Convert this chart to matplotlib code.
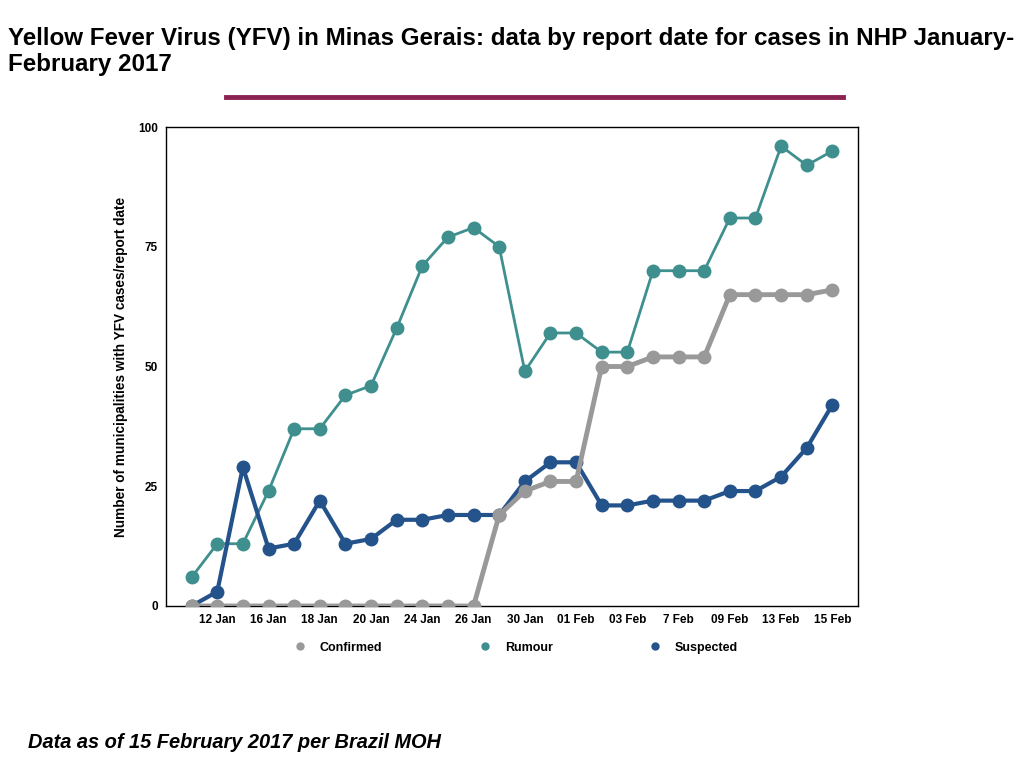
import numpy as np
import matplotlib.pyplot as plt
from matplotlib.lines import Line2D

# report dates (every other point is labelled)
tick_labels = ["12 Jan", "16 Jan", "18 Jan", "20 Jan", "24 Jan", "26 Jan", "30 Jan",
               "01 Feb", "03 Feb", "7 Feb", "09 Feb", "13 Feb", "15 Feb"]

confirmed = [0, 0, 0, 0, 0, 0, 0, 0, 0, 0, 0, 0, 19, 24, 26, 26,
             50, 50, 52, 52, 52, 65, 65, 65, 65, 66]
rumour = [6, 13, 13, 24, 37, 37, 44, 46, 58, 71, 77, 79, 75, 49, 57, 57,
          53, 53, 70, 70, 70, 81, 81, 96, 92, 95]
suspected = [0, 3, 29, 12, 13, 22, 13, 14, 18, 18, 19, 19, 19, 26, 30, 30,
             21, 21, 22, 22, 22, 24, 24, 27, 33, 42]

c_conf = "#999999"
c_rum = "#3f8f8f"
c_sus = "#24528a"

x = np.arange(1, len(confirmed) + 1)

plt.rcParams["font.family"] = ["Liberation Sans", "DejaVu Sans"]
fig = plt.figure(figsize=(10.24, 7.68), dpi=100)
ax = fig.add_axes([166 / 1024, 1 - 606 / 768, 692 / 1024, 479 / 768])

ax.plot(x, rumour, "-o", color=c_rum, lw=2, ms=9, zorder=2)
ax.plot(x, suspected, "-o", color=c_sus, lw=3, ms=9, zorder=3)
ax.plot(x, confirmed, "-o", color=c_conf, lw=3.5, ms=9, zorder=4)

ax.set_xlim(0, 27)
ax.set_ylim(0, 100)
ax.set_yticks([0, 25, 50, 75, 100])
ax.set_xticks(x[1::2])
ax.set_xticklabels(tick_labels)
ax.tick_params(length=0, labelsize=8.5, pad=6)
for lab in ax.get_xticklabels() + ax.get_yticklabels():
    lab.set_fontweight("bold")
ax.set_ylabel("Number of municipalities with YFV cases/report date",
              fontsize=9.8, fontweight="bold", labelpad=7)
for sp in ax.spines.values():
    sp.set_linewidth(1)
    sp.set_color("black")

handles = [Line2D([], [], ls="none", marker="o", ms=5, color=c) for c in (c_conf, c_rum, c_sus)]
ax.legend(handles, ["Confirmed", "Rumour", "Suspected"], ncol=3, frameon=False,
          loc="center", bbox_to_anchor=(0.501, -0.087), prop={"weight": "bold", "size": 9},
          columnspacing=7.2, handletextpad=0.6)

fig.text(8 / 1024, 1 - 38 / 768,
         "Yellow Fever Virus (YFV) in Minas Gerais: data by report date for cases in NHP January-",
         fontsize=17.4, fontweight="bold", va="center", ha="left")
fig.text(8 / 1024, 1 - 64 / 768, "February 2017",
         fontsize=17.4, fontweight="bold", va="center", ha="left")
fig.add_artist(Line2D([226 / 1024, 843 / 1024], [1 - 97 / 768] * 2, color="#8b2252", lw=3.5))
fig.text(28 / 1024, 1 - 743 / 768, "Data as of 15 February 2017 per Brazil MOH",
         fontsize=14.4, fontweight="bold", fontstyle="italic", va="center")

fig.savefig("out.png", dpi=100)
